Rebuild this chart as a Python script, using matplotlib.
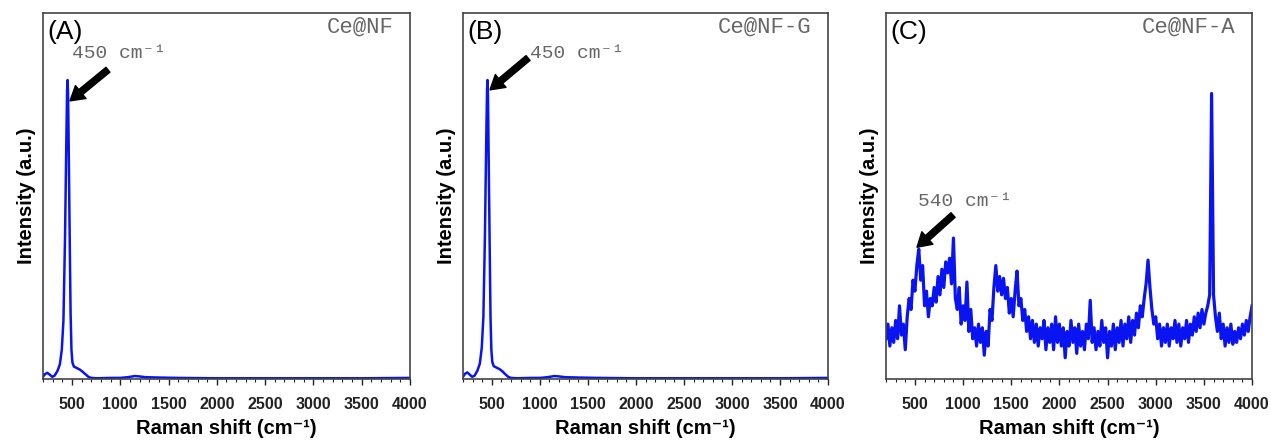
# -*- coding: utf-8 -*-

import numpy as np
import matplotlib
matplotlib.use('Agg')
import matplotlib.pyplot as plt
from matplotlib.ticker import MultipleLocator

# ---- data (intensity in arbitrary units, 0-100) ----
# (A) Ce@NF
shift_a = [200, 220, 245, 270, 295, 320, 350, 375, 395, 412, 428, 442, 450,
           455, 460, 468, 478, 486, 495, 505, 520, 550, 580, 610, 640, 670,
           700, 760, 900, 1000, 1080, 1150, 1200, 1260, 1400, 1600, 2000,
           2500, 3000, 3500, 4000]
inten_a = [0.6, 1.3, 1.7, 1.2, 0.6, 0.9, 2.2, 4.0, 8.0, 16, 38, 65, 79,
           81.7, 78, 60, 36, 18, 8.0, 4.5, 3.4, 3.0, 2.6, 2.0, 1.3, 0.6,
           0.3, 0.2, 0.3, 0.3, 0.5, 0.8, 0.7, 0.5, 0.4, 0.3, 0.2,
           0.2, 0.2, 0.2, 0.3]

# (B) Ce@NF-G
shift_b = [200, 220, 245, 270, 295, 320, 350, 375, 395, 412, 428, 442, 450,
           455, 460, 468, 478, 486, 495, 505, 520, 550, 580, 610, 640, 670,
           700, 760, 900, 1000, 1080, 1150, 1200, 1260, 1400, 1600, 2000,
           2500, 3000, 3500, 4000]
inten_b = [0.6, 1.4, 1.8, 1.2, 0.6, 0.9, 2.3, 4.2, 8.5, 17, 39, 66, 79,
           81.7, 77, 58, 35, 17, 8.0, 4.6, 3.5, 3.1, 2.7, 2.1, 1.3, 0.6,
           0.3, 0.2, 0.3, 0.3, 0.5, 0.8, 0.7, 0.5, 0.4, 0.3, 0.2,
           0.2, 0.2, 0.2, 0.3]

# (C) Ce@NF-A, sampled every 20 cm-1 from 200 to 4000
shift_c_start, shift_c_step = 200, 20
inten_c = [
    11, 15, 9, 14, 10, 16, 11, 20, 12, 15,            # 200-380
    8, 17, 22, 19, 27, 24, 31, 35.5, 27, 31,          # 400-580
    20, 24, 17, 22, 20, 25, 21, 28, 23, 30,           # 600-780
    25, 32, 29, 33, 26, 38.5, 22, 19, 25, 15,         # 800-980
    20, 16, 26.5, 13, 19, 11, 14, 9, 15, 10,          # 1000-1180
    14, 6.5, 13, 9, 19, 16, 25, 31, 24, 28,           # 1200-1380
    23, 27.5, 22, 25, 18, 22, 17, 24, 29.5, 20,       # 1400-1580
    22, 16, 19, 13, 17, 11, 16, 10, 15, 9,            # 1600-1780
    14, 11, 16, 8, 14, 10, 15, 8, 17, 10,             # 1800-1980
    15, 9, 14, 5.8, 13, 9, 16, 10, 14, 7,             # 2000-2180
    15, 9, 13, 8, 15, 11, 21.5, 10, 14, 8,            # 2200-2380
    13, 9, 16, 10, 14, 5.8, 13, 9, 15, 8,             # 2400-2580
    14, 10, 16, 9, 15, 11, 17, 10, 16, 12,            # 2600-2780
    18, 14, 20, 17, 22, 26, 32.5, 25, 19, 15,         # 2800-2980
    17, 11, 15, 9, 14, 10, 15, 9, 14, 11,             # 3000-3180
    16, 10, 15, 9, 14, 11, 16, 10, 15, 12,            # 3200-3380
    17, 13, 18, 14, 19, 15, 18, 20, 23, 78,           # 3400-3580
    23, 17, 13, 18, 11, 15, 9, 14, 10, 15,            # 3600-3780
    9.5, 13, 10, 14, 11, 15, 12, 16, 13, 17,          # 3800-3980
    20,                                               # 4000
]
shift_c = shift_c_start + shift_c_step * np.arange(len(inten_c))

panel_tags = ['(A)', '(B)', '(C)']
sample_names = ['Ce@NF', 'Ce@NF-G', 'Ce@NF-A']
peak_labels = ['450 cm\u207b\u00b9', '450 cm\u207b\u00b9', '540 cm\u207b\u00b9']


SANS = ['Liberation Sans', 'DejaVu Sans']
MONO = ['Liberation Mono', 'DejaVu Sans Mono']


def style_axis(ax):
    ax.set_xlim(200, 4000)
    ax.set_ylim(0, 100)
    ax.xaxis.set_major_locator(MultipleLocator(500))
    ax.xaxis.set_minor_locator(MultipleLocator(100))
    ax.set_yticks([])
    ax.tick_params(axis='x', which='major', direction='out', length=4,
                   width=1, pad=9, colors='#222222')
    ax.tick_params(axis='x', which='minor', direction='out', length=2.5,
                   width=0.8, colors='#222222')
    for lab in ax.get_xticklabels():
        lab.set_fontfamily(SANS)
        lab.set_fontweight('bold')
        lab.set_fontsize(11.5)
    for sp in ax.spines.values():
        sp.set_color('#444444')
        sp.set_linewidth(1.2)
    ax.set_xlabel('Raman shift (cm\u207b\u00b9)', family=SANS,
                  fontweight='bold', fontsize=14.5, labelpad=5)
    ax.set_ylabel('Intensity (a.u.)', family=SANS, fontweight='bold',
                  fontsize=14.5, labelpad=5)


fig = plt.figure(figsize=(12.71, 4.45), dpi=100)
lefts = [0.0338, 0.3643, 0.6971]
widths = [0.2888, 0.2872, 0.288]
axes = [fig.add_axes([l, 0.1483, w, 0.8225]) for l, w in zip(lefts, widths)]

series = [(shift_a, inten_a), (shift_b, inten_b), (shift_c, inten_c)]
line_widths = [1.8, 1.8, 2.3]
# arrow head, arrow tail, label anchor (left, centre) in data coords
arrows = [((480, 76), (873, 84.5), (497, 88.8)),
          ((481, 79), (877, 87.7), (897, 89)),
          ((522, 36), (896, 44.8), (532, 48.4))]

for ax, (xs, ys), lw, tag, name, plab, arr in zip(axes, series, line_widths,
                                                  panel_tags, sample_names,
                                                  peak_labels, arrows):
    ax.plot(xs, ys, color='#0a14f0', lw=lw)
    style_axis(ax)
    ax.text(0.012, 0.948, tag, transform=ax.transAxes, family=SANS,
            fontsize=19, ha='left', va='center', color='black')
    ax.text(0.954, 0.962, name, transform=ax.transAxes, family=MONO,
            fontsize=16, ha='right', va='center', color='#666666')
    head, tail, lab = arr
    ax.annotate('', xy=head, xytext=tail,
                arrowprops=dict(facecolor='black', edgecolor='black',
                                width=4.5, headwidth=12, headlength=10,
                                shrink=0))
    ax.text(lab[0], lab[1], plab, family=MONO, fontsize=14,
            ha='left', va='center', color='#666666')

fig.savefig('out.png', dpi=100)
